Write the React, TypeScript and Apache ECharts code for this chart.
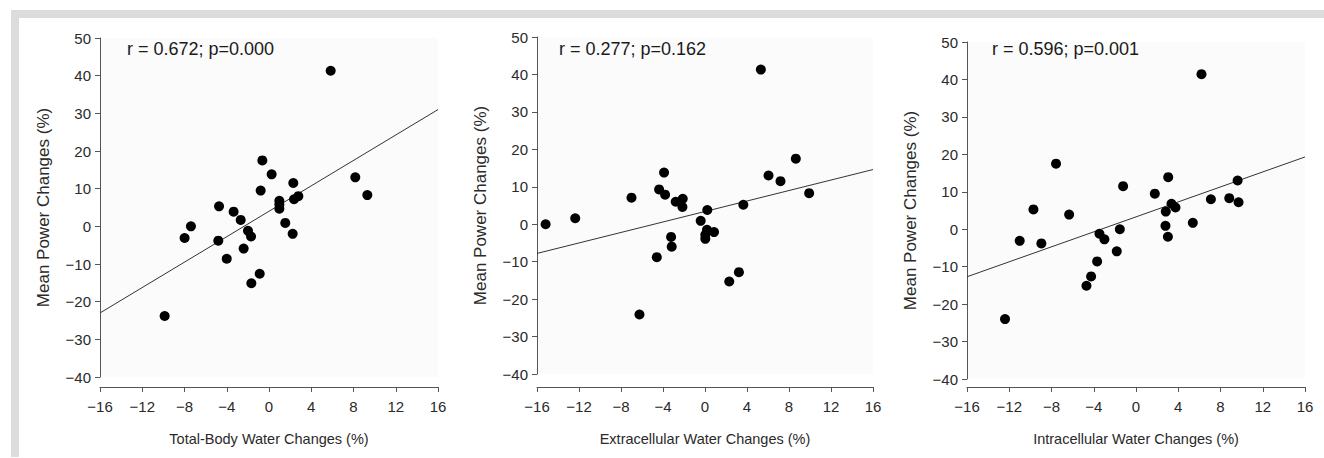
import React, { useEffect, useRef } from "react";
import * as echarts from "echarts";

// Panel 1: Total-Body Water Changes (%) vs Mean Power Changes (%)
const tbwX = [5.84, -0.63, 0.25, 2.3, -0.79, 8.17, 9.31, 0.98, 0.98, 0.98, 2.37, 2.78, -4.73, -3.35, -2.68, -7.39, -7.99, -4.8, -1.99, -1.7, 1.54, 2.24, -2.4, -4.0, -0.88, -1.67, -9.88];
const tbwY = [41.3, 17.5, 13.8, 11.5, 9.5, 13.0, 8.3, 6.8, 5.8, 4.7, 7.2, 8.0, 5.3, 3.9, 1.7, 0.0, -3.1, -3.8, -1.2, -2.7, 0.9, -2.0, -5.9, -8.6, -12.6, -15.1, -23.8];
const tbwTrend = [[-16, -23], [16, 31]];

// Panel 2: Extracellular Water Changes (%)
const ecwX = [5.32, 8.65, 6.05, 7.19, 9.92, -3.9, -4.37, -3.8, -7.0, -2.79, -2.12, -2.15, 3.65, 0.22, -15.18, -12.36, -0.41, 0.19, 0.86, 0.03, 0.03, -3.23, -3.17, -4.59, 3.23, 2.31, -6.24];
const ecwY = [41.3, 17.5, 13.0, 11.5, 8.3, 13.8, 9.3, 7.9, 7.1, 6.0, 6.8, 4.6, 5.2, 3.8, 0.0, 1.6, 0.9, -1.5, -2.1, -2.8, -3.9, -3.4, -6.0, -8.8, -12.8, -15.3, -24.1];
const ecwTrend = [[-16, -7.8], [16, 14.6]];

// Panel 3: Intracellular Water Changes (%)
const icwX = [6.2, -7.57, 3.05, 9.62, -1.22, 1.78, 7.09, 8.83, 9.71, 3.36, 3.74, 2.82, -9.71, -6.33, 5.38, 2.79, -1.53, -3.46, -2.99, 3.02, -11.01, -8.96, -1.82, -3.68, -4.25, -4.69, -12.4];
const icwY = [41.4, 17.5, 13.9, 13.0, 11.5, 9.5, 8.0, 8.3, 7.2, 6.8, 5.8, 4.7, 5.3, 3.9, 1.7, 0.9, 0.0, -1.2, -2.7, -2.0, -3.1, -3.8, -5.9, -8.6, -12.6, -15.1, -24.0];
const icwTrend = [[-16, -12.7], [16, 19.3]];

const xNames = ["Total-Body Water Changes (%)", "Extracellular Water Changes (%)", "Intracellular Water Changes (%)"];
const yName = "Mean Power Changes (%)";
const notes = ["r = 0.672; p=0.000", "r = 0.277; p=0.162", "r = 0.596; p=0.001"];

const FONT = "'Liberation Sans', Arial, sans-serif";

const fmt = (v: number) => (v < 0 ? "\u2212" + Math.abs(v) : String(v));

export default function App() {
  const ref = useRef<HTMLDivElement>(null);
  useEffect(() => {
    if (!ref.current) return;
    const chart = echarts.init(ref.current, undefined, { renderer: "svg" });
    const grids = [
      { left: 100, top: 38, width: 338, height: 339, off: 10, noteX: 127 },
      { left: 537, top: 37, width: 336, height: 337, off: 13, noteX: 559 },
      { left: 967, top: 42, width: 338, height: 337, off: 8, noteX: 992 },
    ];
    const xs = [tbwX, ecwX, icwX];
    const ys = [tbwY, ecwY, icwY];
    const trends = [tbwTrend, ecwTrend, icwTrend];
    const axisColor = "#555";
    const textColor = "#2a2a2a";
    const option: any = {
      animation: false,
      backgroundColor: "#ffffff",
      grid: grids.map((g) => ({
        left: g.left,
        top: g.top,
        width: g.width,
        height: g.height,
        show: true,
        backgroundColor: "#fbfbfb",
        borderWidth: 0,
      })),
      xAxis: grids.map((g, i) => ({
        type: "value",
        gridIndex: i,
        min: -16,
        max: 16,
        interval: 4,
        offset: g.off,
        name: xNames[i],
        nameLocation: "middle",
        nameGap: 44,
        nameTextStyle: { fontFamily: FONT, fontSize: 14.5, color: textColor },
        axisLine: { show: true, onZero: false, lineStyle: { color: axisColor, width: 1 } },
        axisTick: { show: true, length: 5, lineStyle: { color: axisColor } },
        axisLabel: { formatter: fmt, fontFamily: FONT, fontSize: 15, color: textColor, margin: 12 },
        splitLine: { show: false },
      })),
      yAxis: grids.map((g, i) => ({
        type: "value",
        gridIndex: i,
        min: -40,
        max: 50,
        interval: 10,
        name: yName,
        nameLocation: "middle",
        nameGap: 48,
        nameTextStyle: { fontFamily: FONT, fontSize: 17, color: textColor },
        axisLine: { show: true, onZero: false, lineStyle: { color: axisColor, width: 1 } },
        axisTick: { show: true, length: 5, lineStyle: { color: axisColor } },
        axisLabel: { formatter: fmt, fontFamily: FONT, fontSize: 15, color: textColor, margin: 9 },
        splitLine: { show: false },
      })),
      series: [
        ...grids.map((g, i) => ({
          type: "line",
          xAxisIndex: i,
          yAxisIndex: i,
          data: trends[i],
          symbol: "none",
          lineStyle: { color: "#333", width: 1 },
          z: 2,
        })),
        ...grids.map((g, i) => ({
          type: "scatter",
          xAxisIndex: i,
          yAxisIndex: i,
          data: xs[i].map((x, k) => [x, ys[i][k]]),
          symbol: "circle",
          symbolSize: 10,
          itemStyle: { color: "#000000", opacity: 1 },
          z: 3,
        })),
      ],
      graphic: [
        { type: "rect", shape: { x: 11, y: 10, width: 1313, height: 8 }, style: { fill: "#dcdcde" }, silent: true },
        { type: "rect", shape: { x: 11, y: 10, width: 8, height: 447 }, style: { fill: "#dcdcde" }, silent: true },
        ...grids.map((g, i) => ({
          type: "text",
          x: g.noteX,
          y: 49,
          style: {
            text: notes[i],
            font: `18px ${FONT}`,
            fill: "#1a1a1a",
            textVerticalAlign: "middle",
            verticalAlign: "middle",
          },
          silent: true,
        })),
      ],
    };
    chart.setOption(option);
    return () => chart.dispose();
  }, []);
  return (
    <div
      ref={ref}
      style={{ position: "fixed", left: 0, top: 0, width: 1324, height: 458 }}
    />
  );
}
